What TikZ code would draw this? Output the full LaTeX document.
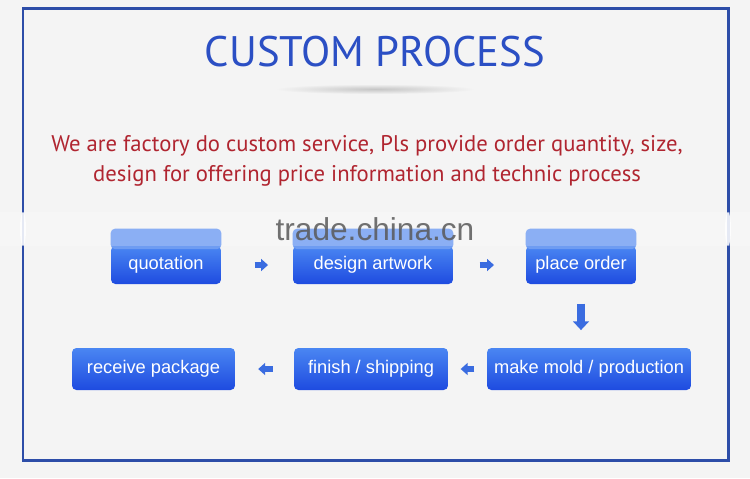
\documentclass[tikz,border=0pt]{standalone}
\usepackage{fontspec}
\setmainfont{PT Sans}
\newfontfamily\boxfont{Liberation Sans}
\usetikzlibrary{arrows.meta,positioning}
\definecolor{bggray}{HTML}{F4F4F4}
\definecolor{frameblue}{HTML}{2D4DA8}
\definecolor{titleblue}{HTML}{2B4FC4}
\definecolor{notered}{HTML}{B02530}
\definecolor{boxtop}{HTML}{4A86F2}
\definecolor{boxbottom}{HTML}{1E4BE0}
\definecolor{striptop}{HTML}{6E9CF2}
\definecolor{arrowblue}{HTML}{3A6CE0}

\begin{document}
\begin{tikzpicture}[x=0.02cm,y=-0.02cm,
    stepbox/.style={rounded corners=2.5pt,top color=boxtop,bottom color=boxbottom,
        text=white,font=\boxfont\fontsize{10.4}{12}\selectfont,inner sep=0pt},
    flow/.style={arrowblue,line width=3pt,-{Triangle[length=4pt,width=6.8pt]}}]

    % Hintergrund und Rahmen
    \fill[bggray] (0,0) rectangle (750,478);
    \useasboundingbox (0,0) rectangle (750,478);
    \draw[frameblue,line width=1.7pt] (23,8) rectangle (728,460);

    % Titel mit Schatten
    \shade[inner color=gray!45,outer color=bggray] (375,89) ellipse (100 and 5);
    \node[titleblue,font=\fontsize{24.3}{28}\selectfont] (title) at (375,52) {CUSTOM PROCESS};

    % Hinweistext
    \node[notered,font=\fontsize{12.9}{17}\selectfont,align=center] (note) at (367,161)
        {We are factory do custom service, Pls provide order quantity, size,\\
         design for offering price information and technic process};

    % erste Reihe
    \node[stepbox,minimum width=2.2cm,minimum height=0.76cm] (quote) at (166,265) {quotation};
    \node[stepbox,minimum width=3.2cm,minimum height=0.76cm] (design) at (373,265) {design artwork};
    \node[stepbox,minimum width=2.2cm,minimum height=0.76cm] (order) at (581,265) {place order};
    \foreach \n in {quote,design,order}
        \fill[striptop,rounded corners=2.5pt] ([yshift=0.34cm]\n.north west) rectangle ([yshift=-2pt]\n.north east);

    % zweite Reihe
    \node[stepbox,minimum width=4.08cm,minimum height=0.84cm] (mold) at (589,369) {make mold / production};
    \node[stepbox,minimum width=3.08cm,minimum height=0.84cm] (ship) at (371,369) {finish / shipping};
    \node[stepbox,minimum width=3.26cm,minimum height=0.84cm] (receive) at (153.5,369) {receive package};

    % Pfeile
    \draw[flow,shorten <=19pt,shorten >=14pt] (quote) -- (design);
    \draw[flow,shorten <=15pt,shorten >=18pt] (design) -- (order);
    \draw[flow,line width=4pt,-{Triangle[length=5pt,width=9pt]},shorten <=11pt,shorten >=10pt]
        (order.south) -- (order.south |- mold.north);
    \draw[flow,shorten <=7pt,shorten >=7pt] (mold) -- (ship);
    \draw[flow,shorten <=12pt,shorten >=13pt] (ship) -- (receive);

    % heller Streifen quer durchs Bild
    \fill[white,opacity=0.2] (0,212) rectangle (750,246);
    \foreach \x in {23,728}
        \fill[white,opacity=0.85] (\x,229) ellipse (3 and 17);

    % Wasserzeichen
    \node[gray!70!black,opacity=0.85,font=\boxfont\fontsize{18}{20}\selectfont] (mark) at (375,229) {trade.china.cn};

\end{tikzpicture}
\end{document}
